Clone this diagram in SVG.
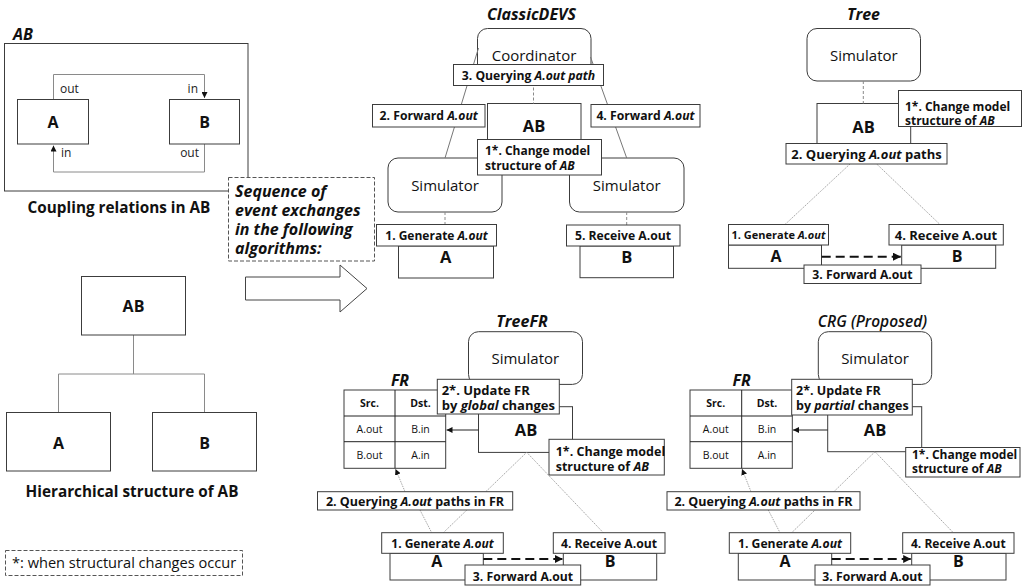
<svg xmlns="http://www.w3.org/2000/svg" width="1029" height="586" viewBox="0 0 1029 586">
  <defs>
    <marker id="ah" viewBox="0 0 10 10" refX="10" refY="5" markerWidth="6" markerHeight="6" markerUnits="userSpaceOnUse" orient="auto">
      <path d="M0,0 L10,5 L0,10 z" fill="#111"/>
    </marker>
    <marker id="ahBig" viewBox="0 0 10 10" refX="10" refY="5" markerWidth="8" markerHeight="8" markerUnits="userSpaceOnUse" orient="auto">
      <path d="M0,0 L10,5 L0,10 z" fill="#111"/>
    </marker>
    <style>
      text { font-family: "Open Sans", "Noto Sans", "Liberation Sans", sans-serif; fill: #111; }
      .box { fill: #fff; stroke: #3c3c3c; stroke-width: 1; }
      .lbl rect { fill: #fff; stroke: #3c3c3c; stroke-width: 1; }
      .lbl text { font-size: 12.2px; font-weight: bold; }
      .c { text-anchor: middle; }
      .big { font-size: 16.5px; font-weight: bold; }
      .mid { font-size: 16px; font-weight: bold; }
      .cap { font-size: 15.3px; font-weight: bold; }
      .proc { font-size: 15px; }
      .title { font-size: 16px; font-weight: bold; font-style: italic; }
      .port { font-size: 12px; fill: #222; }
      .cell { font-size: 10.5px; }
      .cellh { font-size: 10.5px; font-weight: bold; }
      .it { font-style: italic; }
      .dash { fill: #fff; stroke: #555; stroke-width: 1; stroke-dasharray: 4 2; }
      .wire { fill: none; stroke: #8a8a8a; stroke-width: 1; }
      .tie { fill: none; stroke: #777; stroke-width: 1; }
      .link { fill: none; stroke: #8a8a8a; stroke-width: 1; stroke-dasharray: 3 2; }
      .dot { fill: none; stroke: #909090; stroke-width: 0.8; stroke-dasharray: 1.5 1; }
      .fwd { fill: none; stroke: #111; stroke-width: 2; stroke-dasharray: 9 5; }
      .thin { fill: none; stroke: #222; stroke-width: 1; }
    </style>
  </defs>

  <!-- ===== Coupling relations in AB ===== -->
  <g id="coupled-AB">
    <text x="13" y="40" class="title" font-size="15">AB</text>
    <rect class="box" x="4.5" y="43.5" width="243.5" height="147.5"/>
  </g>
  <g id="coupling-wires">
    <path class="wire" d="M53.5,99.5 V74.5 H204.5 V98" marker-end="url(#ah)"/>
    <path class="wire" d="M204.5,144 V172 H53.5 V145.5" marker-end="url(#ah)"/>
  </g>
  <g id="coupled-A">
    <rect class="box" x="17.5" y="99.5" width="71" height="44.5"/>
    <text x="53" y="128" class="mid c">A</text>
    <text x="60" y="93" class="port">out</text>
    <text x="61" y="157" class="port">in</text>
  </g>
  <g id="coupled-B">
    <rect class="box" x="169.5" y="99.5" width="70" height="44.5"/>
    <text x="204.5" y="128" class="mid c">B</text>
    <text x="198" y="93" class="port" text-anchor="end">in</text>
    <text x="199" y="156.5" class="port" text-anchor="end">out</text>
  </g>
  <text x="119" y="213" class="cap c">Coupling relations in AB</text>

  <!-- ===== Hierarchical structure of AB ===== -->
  <g id="hier-links">
    <path class="wire" d="M133.5,335 V374 M58.5,412 V374 H204.5 V412"/>
  </g>
  <g id="hier-AB">
    <rect class="box" x="81.5" y="276.5" width="104" height="58.5"/>
    <text x="133.5" y="312" class="mid c">AB</text>
  </g>
  <g id="hier-A">
    <rect class="box" x="6.5" y="412.5" width="104" height="58.5"/>
    <text x="58.5" y="449" class="mid c">A</text>
  </g>
  <g id="hier-B">
    <rect class="box" x="152.5" y="412.5" width="104" height="58.5"/>
    <text x="204.5" y="449" class="mid c">B</text>
  </g>
  <text x="132" y="497" class="cap c" font-size="15">Hierarchical structure of AB</text>

  <!-- legend -->
  <g id="legend">
    <rect class="dash" x="5.5" y="550.5" width="237" height="25"/>
    <text x="12" y="568" font-size="14.6">*: when structural changes occur</text>
  </g>

  <!-- sequence note and hollow arrow -->
  <g id="sequence-note">
    <rect class="dash" x="228.5" y="177.5" width="146" height="83.5"/>
    <text class="title" font-size="16.5">
      <tspan x="235" y="197">Sequence of</tspan>
      <tspan x="235" y="216">event exchanges</tspan>
      <tspan x="235" y="235">in the following</tspan>
      <tspan x="235" y="254">algorithms:</tspan>
    </text>
  </g>
  <polygon id="hollow-arrow" points="245.5,277 340,277 340,265 367,288.5 340,312 340,300 245.5,300" fill="#fff" stroke="#444" stroke-width="1"/>

  <!-- ===== ClassicDEVS ===== -->
  <text x="531.5" y="20" class="title c">ClassicDEVS</text>
  <g id="cd-coordinator">
    <rect class="box" x="477.5" y="28.5" width="113.5" height="54" rx="10"/>
    <text x="534" y="61" class="proc c" font-size="16.5">Coordinator</text>
  </g>
  <g id="cd-AB">
    <rect class="box" x="487.5" y="103.5" width="93.5" height="40"/>
    <text x="534" y="132" class="big c">AB</text>
  </g>
  <g id="cd-sim-A">
    <rect class="box" x="388" y="158" width="114" height="54" rx="10"/>
    <text x="445" y="191" class="proc c">Simulator</text>
  </g>
  <g id="cd-sim-B">
    <rect class="box" x="569.5" y="158" width="114.5" height="54" rx="10"/>
    <text x="626.7" y="191" class="proc c">Simulator</text>
  </g>
  <g id="cd-A">
    <rect class="box" x="398.5" y="246" width="95" height="32"/>
    <text x="445.8" y="263" class="big c">A</text>
  </g>
  <g id="cd-B">
    <rect class="box" x="580" y="246" width="93.5" height="31.7"/>
    <text x="626.7" y="263" class="big c">B</text>
  </g>

  <!-- ===== Tree ===== -->
  <text x="863.5" y="20" class="title c">Tree</text>
  <g id="tr-sim">
    <rect class="box" x="807" y="28.5" width="113.5" height="52.5" rx="10"/>
    <text x="863.8" y="61" class="proc c">Simulator</text>
  </g>
  <g id="tr-AB">
    <rect class="box" x="817" y="103.5" width="93.7" height="40"/>
    <text x="863.5" y="133" class="big c">AB</text>
  </g>
  <g id="tr-A">
    <rect class="box" x="728.5" y="245" width="93" height="23.3"/>
    <text x="776" y="261.5" class="mid c">A</text>
  </g>
  <g id="tr-B">
    <rect class="box" x="901.7" y="245" width="94" height="23.3"/>
    <text x="957" y="261.5" class="mid c">B</text>
  </g>

  <!-- ===== TreeFR ===== -->
  <text x="522" y="327" class="title c">TreeFR</text>
  <g id="tf-sim">
    <rect class="box" x="468.5" y="331.7" width="114" height="52.7" rx="10"/>
    <text x="525.3" y="364" class="proc c">Simulator</text>
  </g>
  <g id="tf-AB">
    <rect class="box" x="478.5" y="406.7" width="94" height="45.7"/>
    <text x="526" y="436" class="big c">AB</text>
  </g>
  <g id="tf-FR">
    <text x="400" y="385.5" class="title c" font-size="12">FR</text>
    <rect class="box" x="344" y="390" width="101.7" height="78.3"/>
    <path class="thin" d="M344,416 H445.7 M344,441.7 H445.7 M395,390 V468.3"/>
    <text x="369.5" y="407" class="cellh c">Src.</text>
    <text x="420.5" y="407" class="cellh c">Dst.</text>
    <text x="369.5" y="433" class="cell c">A.out</text>
    <text x="420.5" y="433" class="cell c">B.in</text>
    <text x="369.5" y="458.5" class="cell c">B.out</text>
    <text x="420.5" y="458.5" class="cell c">A.in</text>
  </g>
  <g id="tf-A">
    <rect class="box" x="390" y="553.3" width="93.3" height="26.7"/>
    <text x="436.7" y="566.5" class="mid c">A</text>
  </g>
  <g id="tf-B">
    <rect class="box" x="563.3" y="553.3" width="93.4" height="26.7"/>
    <text x="610" y="566.5" class="mid c">B</text>
  </g>

  <!-- ===== CRG (Proposed) ===== -->
  <text x="872.5" y="327" class="c" font-size="15.5" font-weight="600" font-style="italic">CRG (Proposed)</text>
  <g id="crg-sim">
    <rect class="box" x="818.3" y="331.7" width="113.4" height="52.7" rx="10"/>
    <text x="875" y="364" class="proc c">Simulator</text>
  </g>
  <g id="crg-AB">
    <rect class="box" x="827.7" y="406.7" width="94" height="45"/>
    <text x="875" y="436" class="big c">AB</text>
  </g>
  <g id="crg-FR">
    <text x="741.7" y="385.5" class="title c" font-size="12">FR</text>
    <rect class="box" x="690" y="390" width="102.3" height="78.3"/>
    <path class="thin" d="M690,416 H792.3 M690,441.7 H792.3 M741.7,390 V468.3"/>
    <text x="715.8" y="407" class="cellh c">Src.</text>
    <text x="767" y="407" class="cellh c">Dst.</text>
    <text x="715.8" y="433" class="cell c">A.out</text>
    <text x="767" y="433" class="cell c">B.in</text>
    <text x="715.8" y="458.5" class="cell c">B.out</text>
    <text x="767" y="458.5" class="cell c">A.in</text>
  </g>
  <g id="crg-A">
    <rect class="box" x="738.3" y="553.3" width="93.4" height="26.7"/>
    <text x="785" y="566.5" class="mid c">A</text>
  </g>
  <g id="crg-B">
    <rect class="box" x="911.7" y="553.3" width="94.3" height="26.7"/>
    <text x="958.3" y="566.5" class="mid c">B</text>
  </g>

  <!-- ===== connectors ===== -->
  <g id="connectors">
    <!-- ClassicDEVS -->
    <line class="tie" x1="478.5" y1="48" x2="445" y2="158"/>
    <line class="tie" x1="590.5" y1="57" x2="626.7" y2="158"/>
    <line class="link" x1="533.5" y1="82.5" x2="533.5" y2="103.5"/>
    <line class="link" x1="445" y1="212" x2="445" y2="224.5"/>
    <line class="link" x1="626.7" y1="212" x2="626.7" y2="225"/>
    <!-- Tree -->
    <line class="link" x1="863.3" y1="81" x2="863.3" y2="103.5"/>
    <line class="dot" x1="850" y1="164" x2="785" y2="224.5"/>
    <line class="dot" x1="876.7" y1="164" x2="940" y2="224.5"/>
    <line class="fwd" x1="821.7" y1="256.7" x2="901" y2="256.7" marker-end="url(#ahBig)"/>
    <!-- TreeFR -->
    <line class="dot" x1="526.7" y1="452.3" x2="443.3" y2="532.7"/>
    <line class="dot" x1="526.7" y1="452.3" x2="603.3" y2="532.7"/>
    <line class="dot" x1="420" y1="510" x2="431.7" y2="532.7"/>
    <line class="dot" x1="405" y1="491.7" x2="395.5" y2="469" marker-end="url(#ah)"/>
    <line class="thin" x1="478.5" y1="430" x2="446.5" y2="430" marker-end="url(#ah)"/>
    <line class="fwd" x1="483.3" y1="559" x2="562.8" y2="559" marker-end="url(#ahBig)"/>
    <!-- CRG -->
    <line class="dot" x1="875" y1="451.7" x2="791.7" y2="532.7"/>
    <line class="dot" x1="875" y1="451.7" x2="953.3" y2="532.7"/>
    <line class="dot" x1="768.3" y1="510" x2="780" y2="532.7"/>
    <line class="dot" x1="751" y1="491.7" x2="742" y2="469" marker-end="url(#ah)"/>
    <line class="thin" x1="827.7" y1="430" x2="793" y2="430" marker-end="url(#ah)"/>
    <line class="fwd" x1="831.7" y1="559" x2="911.2" y2="559" marker-end="url(#ahBig)"/>
  </g>

  <!-- ===== step labels ===== -->
  <g id="cd-step3" class="lbl">
    <rect x="453.5" y="64.5" width="150" height="21"/>
    <text x="528.5" y="79.5" class="c">3. Querying <tspan class="it">A.out path</tspan></text>
  </g>
  <g id="cd-step2" class="lbl">
    <rect x="372.5" y="104.5" width="112.5" height="22.5"/>
    <text x="428.7" y="120" class="c">2. Forward <tspan class="it">A.out</tspan></text>
  </g>
  <g id="cd-step4" class="lbl">
    <rect x="591" y="104.5" width="109" height="22.5"/>
    <text x="645.5" y="120" class="c">4. Forward <tspan class="it">A.out</tspan></text>
  </g>
  <g id="cd-step1s" class="lbl">
    <rect x="477.5" y="139.5" width="124" height="35.5"/>
    <text x="485" y="155" style="font-size:12px">1*. Change model</text>
    <text x="485" y="169.5" style="font-size:12px">structure of <tspan class="it">AB</tspan></text>
  </g>
  <g id="cd-step1" class="lbl">
    <rect x="376.5" y="224.5" width="120" height="21.5"/>
    <text x="436.5" y="239.5" class="c" style="font-size:12px">1. Generate <tspan class="it">A.out</tspan></text>
  </g>
  <g id="cd-step5" class="lbl">
    <rect x="566.5" y="225" width="113.5" height="21"/>
    <text x="623" y="239.5" class="c">5. Receive A.out</text>
  </g>

  <g id="tr-step1s" class="lbl">
    <rect x="898.5" y="90.5" width="123" height="36"/>
    <text x="905" y="110.5" style="font-size:12px">1*. Change model</text>
    <text x="905" y="124.5" style="font-size:12px">structure of <tspan class="it">AB</tspan></text>
  </g>
  <g id="tr-step2" class="lbl">
    <rect x="786" y="143.5" width="161" height="20.5"/>
    <text x="866.5" y="158.5" class="c" style="font-size:13px">2. Querying <tspan class="it">A.out</tspan> paths</text>
  </g>
  <g id="tr-step1" class="lbl">
    <rect x="728.5" y="224.5" width="100" height="20.5"/>
    <text x="778.5" y="239" class="c" style="font-size:11px">1. Generate <tspan class="it">A.out</tspan></text>
  </g>
  <g id="tr-step4" class="lbl">
    <rect x="889" y="224.5" width="114.3" height="20.5"/>
    <text x="946" y="239.5" class="c" style="font-size:13px">4. Receive A.out</text>
  </g>
  <g id="tr-step3" class="lbl">
    <rect x="804" y="265" width="117" height="18.5"/>
    <text x="862.5" y="279" class="c">3. Forward A.out</text>
  </g>

  <g id="tf-step2s" class="lbl">
    <rect x="437.3" y="379.3" width="122" height="34.7"/>
    <text x="441.7" y="395" style="font-size:13px">2*. Update FR</text>
    <text x="441.7" y="409.5" style="font-size:13px">by <tspan class="it">global</tspan> changes</text>
  </g>
  <g id="tf-step1s" class="lbl">
    <rect x="549" y="439.3" width="115.3" height="35.7"/>
    <text x="555.7" y="455.5" style="font-size:12.5px">1*. Change model</text>
    <text x="555.7" y="470.5" style="font-size:12.5px">structure of <tspan class="it">AB</tspan></text>
  </g>
  <g id="tf-step2" class="lbl">
    <rect x="317.5" y="491.7" width="195.2" height="18.3"/>
    <text x="415" y="505.5" class="c" style="font-size:12.5px">2. Querying <tspan class="it">A.out</tspan> paths in FR</text>
  </g>
  <g id="tf-step1" class="lbl">
    <rect x="381.7" y="532.7" width="121.6" height="20.6"/>
    <text x="442.5" y="547.5" class="c" style="font-size:12px">1. Generate <tspan class="it">A.out</tspan></text>
  </g>
  <g id="tf-step4" class="lbl">
    <rect x="553.3" y="532.7" width="111.7" height="20.6"/>
    <text x="609" y="547.5" class="c">4. Receive A.out</text>
  </g>
  <g id="tf-step3" class="lbl">
    <rect x="465" y="565" width="115.7" height="20"/>
    <text x="523" y="580.5" class="c">3. Forward A.out</text>
  </g>

  <g id="crg-step2s" class="lbl">
    <rect x="791.7" y="379.3" width="120.6" height="35.7"/>
    <text x="796" y="395" style="font-size:12.5px">2*. Update FR</text>
    <text x="796" y="409.5" style="font-size:12.5px">by <tspan class="it">partial</tspan> changes</text>
  </g>
  <g id="crg-step1s" class="lbl">
    <rect x="905.7" y="447.5" width="114.3" height="29.5"/>
    <text x="912" y="459" style="font-size:12px">1*. Change model</text>
    <text x="912" y="472.5" style="font-size:12px">structure of <tspan class="it">AB</tspan></text>
  </g>
  <g id="crg-step2" class="lbl">
    <rect x="667" y="491.7" width="193" height="18.3"/>
    <text x="763.5" y="505.5" class="c" style="font-size:12.5px">2. Querying <tspan class="it">A.out</tspan> paths in FR</text>
  </g>
  <g id="crg-step1" class="lbl">
    <rect x="729.3" y="532.7" width="121.4" height="20.6"/>
    <text x="790" y="547.5" class="c">1. Generate <tspan class="it">A.out</tspan></text>
  </g>
  <g id="crg-step4" class="lbl">
    <rect x="902.7" y="532.7" width="111.3" height="20.6"/>
    <text x="958.3" y="547.5" class="c" style="font-size:12px">4. Receive A.out</text>
  </g>
  <g id="crg-step3" class="lbl">
    <rect x="815" y="565" width="115" height="20"/>
    <text x="872.5" y="580.5" class="c">3. Forward A.out</text>
  </g>
</svg>
